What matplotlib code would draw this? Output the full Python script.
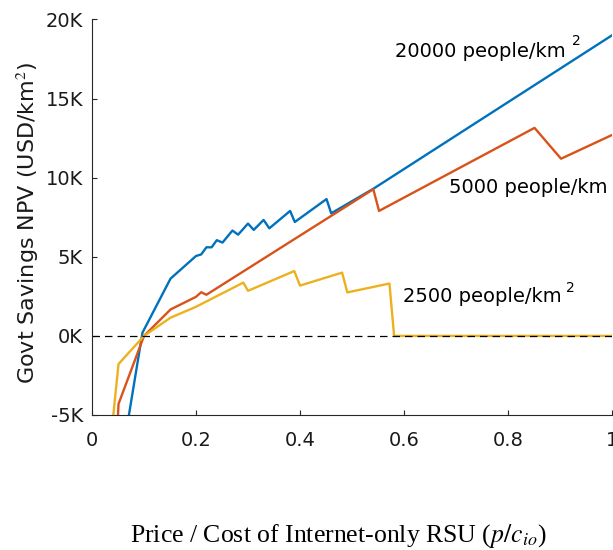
import matplotlib
matplotlib.use("Agg")
import matplotlib.pyplot as plt
from matplotlib.ticker import FuncFormatter

# price ratio p / c_io and govt savings NPV (USD/km^2)
x_20000 = [0.071, 0.097, 0.151, 0.200, 0.210, 0.220, 0.230, 0.240, 0.251,
           0.270, 0.281, 0.300, 0.311, 0.330, 0.341, 0.381, 0.390, 0.451,
           0.460, 0.541, 1.000]
y_20000 = [-5000, 200, 3620, 5050, 5150, 5600, 5600, 6050, 5900,
           6660, 6400, 7100, 6700, 7330, 6800, 7900, 7200, 8650,
           7750, 9300, 19000]

x_5000 = [0.050, 0.051, 0.100, 0.151, 0.200, 0.210, 0.220, 0.541, 0.552,
          0.851, 0.902, 1.000]
y_5000 = [-5000, -4300, 0, 1670, 2470, 2760, 2600, 9270, 7900,
          13150, 11200, 12700]

x_2500 = [0.041, 0.051, 0.100, 0.151, 0.200, 0.291, 0.300, 0.389, 0.400,
          0.481, 0.491, 0.572, 0.581, 1.000]
y_2500 = [-5000, -1780, 0, 1150, 1840, 3370, 2850, 4100, 3180,
          4000, 2750, 3310, 0, 0]

plt.rcParams["font.family"] = ["DejaVu Sans"]
plt.rcParams["mathtext.fontset"] = "stix"

fig = plt.figure(figsize=(6.13, 5.5), dpi=100)
ax = fig.add_axes([92 / 613, 1 - 415 / 550, 520 / 613, 395.5 / 550])

ax.plot(x_20000, y_20000, color="#0072BD", lw=1.7)
ax.plot(x_5000, y_5000, color="#D95319", lw=1.7)
ax.plot(x_2500, y_2500, color="#EDB120", lw=1.7)
ax.plot([0, 1], [0, 0], color="black", lw=0.9, ls=(0, (6, 4)))

ax.set_xlim(0, 1)
ax.set_ylim(-5000, 20000)
ax.set_xticks([0, 0.2, 0.4, 0.6, 0.8, 1])
ax.set_xticklabels(["0", "0.2", "0.4", "0.6", "0.8", "1"])
ax.set_yticks(range(-5000, 20001, 5000))
ax.yaxis.set_major_formatter(FuncFormatter(lambda v, p: f"{int(v / 1000)}K"))
ax.tick_params(direction="in", length=3.6, width=0.8, labelsize=14,
               colors="#262626", labelcolor="#1a1a1a")
ax.tick_params(axis="x", pad=11.6)
ax.tick_params(axis="y", pad=6.5)
for s in ("top", "right"):
    ax.spines[s].set_visible(False)
for s in ("left", "bottom"):
    ax.spines[s].set_color("#262626")
    ax.spines[s].set_linewidth(0.8)

# curve labels
ax.text(0.583, 17650, "20000 people/km", fontsize=14, va="baseline")
ax.text(0.924, 18390, "2", fontsize=10, va="baseline")
ax.text(0.6865, 9030, "5000 people/km", fontsize=14, va="baseline")
ax.text(0.5975, 2160, "2500 people/km", fontsize=14, va="baseline")
ax.text(0.912, 2790, "2", fontsize=10, va="baseline")

fig.text(27.5 / 613, 1 - 223 / 550, "Govt Savings NPV (USD/km$^2$)",
         family=["DejaVu Sans"], fontsize=16, rotation=90,
         ha="center", va="center", color="#1a1a1a")

fig.text(338 / 613, 1 - 536 / 550,
         r"Price / Cost of Internet-only RSU ($p/c_{io}$)",
         family=["Liberation Serif", "DejaVu Serif"], fontsize=18.5,
         ha="center", va="center")

fig.savefig("out.png", dpi=100)
